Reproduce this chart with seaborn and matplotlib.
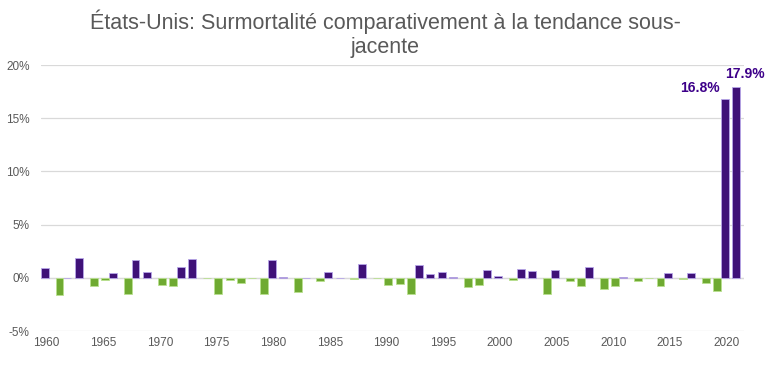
import matplotlib
matplotlib.use("Agg")
import matplotlib.pyplot as plt
import pandas as pd
import seaborn as sns

# excess mortality vs underlying trend, in %
years = list(range(1960, 2022))
values = [
    0.94, -1.6, 0.0, 1.88, -0.8, -0.2, 0.47, -1.5, 1.7, 0.56,   # 1960-1969
    -0.63, -0.75, 1.0, 1.75, -0.05, -1.5, -0.22, -0.5, -0.04, -1.47,  # 1970-1979
    1.65, 0.12, -1.3, 0.0, -0.3, 0.56, 0.0, -0.15, 1.31, -0.05,  # 1980-1989
    -0.66, -0.6, -1.5, 1.22, 0.38, 0.56, 0.12, -0.88, -0.69, 0.75,  # 1990-1999
    0.22, -0.2, 0.85, 0.66, -1.47, 0.75, -0.31, -0.75, 1.06, -1.07,  # 2000-2009
    -0.78, 0.12, -0.28, -0.05, -0.72, 0.5, -0.1, 0.47, -0.47, -1.25,  # 2010-2019
    16.8, 17.9,  # 2020-2021
]
labeled = {2020: "16.8%", 2021: "17.9%"}

purple = "#3D0089"
green = "#6FBE1E"

df = pd.DataFrame({"year": [str(y) for y in years], "value": values})
df["sign"] = ["pos" if v >= 0 else "neg" for v in values]

sns.set_style("white")
plt.rcParams["font.family"] = ["Liberation Sans", "DejaVu Sans"]

fig = plt.figure(figsize=(7.7, 3.72), dpi=100)
ax = fig.add_axes([0.053, 0.110, 0.913, 0.715])

sns.barplot(
    data=df, x="year", y="value", hue="sign",
    palette={"pos": purple, "neg": green},
    dodge=False, width=0.7, legend=False, ax=ax,
)

# the two series sit slightly apart, like in the original chart
for p in ax.patches:
    r, g, b, _ = p.get_facecolor()
    if g > r:
        p.set_x(p.get_x() + 0.15)
        p.set_edgecolor("#B9E08F")
    else:
        p.set_x(p.get_x() - 0.15)
        p.set_edgecolor("#B7A6E8")
    p.set_linewidth(0.6)

# value labels for the last two years
for i, y in enumerate(years):
    if y in labeled:
        v = values[i]
        if y == 2021:
            ax.text(i + 0.6, v + 0.65, labeled[y], ha="center", va="bottom",
                    color=purple, fontsize=10, fontweight="bold", clip_on=False)
        else:
            ax.text(i - 0.6, v + 0.4, labeled[y], ha="right", va="bottom",
                    color=purple, fontsize=10, fontweight="bold", clip_on=False)

ax.set_ylim(-5, 20)
ax.set_xlim(-0.5, len(years) - 0.5)
ax.set_yticks([-5, 0, 5, 10, 15, 20])
ax.set_yticklabels([f"{t}%" for t in [-5, 0, 5, 10, 15, 20]])
ticks = [i for i, y in enumerate(years) if y % 5 == 0]
ax.set_xticks(ticks)
ax.set_xticklabels([years[i] for i in ticks])
ax.yaxis.grid(True, color="#D9D9D9", linewidth=0.9)
ax.set_axisbelow(True)
ax.axhline(0, color="#D9D9D9", linewidth=0.9, zorder=0.5)
for s in ax.spines.values():
    s.set_visible(False)
ax.tick_params(axis="y", length=0, pad=8, labelsize=8.5, labelcolor="#595959")
ax.tick_params(axis="x", length=0, pad=4, labelsize=8.5, labelcolor="#595959")
ax.set_xlabel("")
ax.set_ylabel("")

fig.suptitle("États-Unis: Surmortalité comparativement à la tendance sous-\njacente",
             x=0.5, y=0.975, fontsize=15.5, color="#595959", linespacing=1.2)

fig.savefig("out.png", dpi=100)
